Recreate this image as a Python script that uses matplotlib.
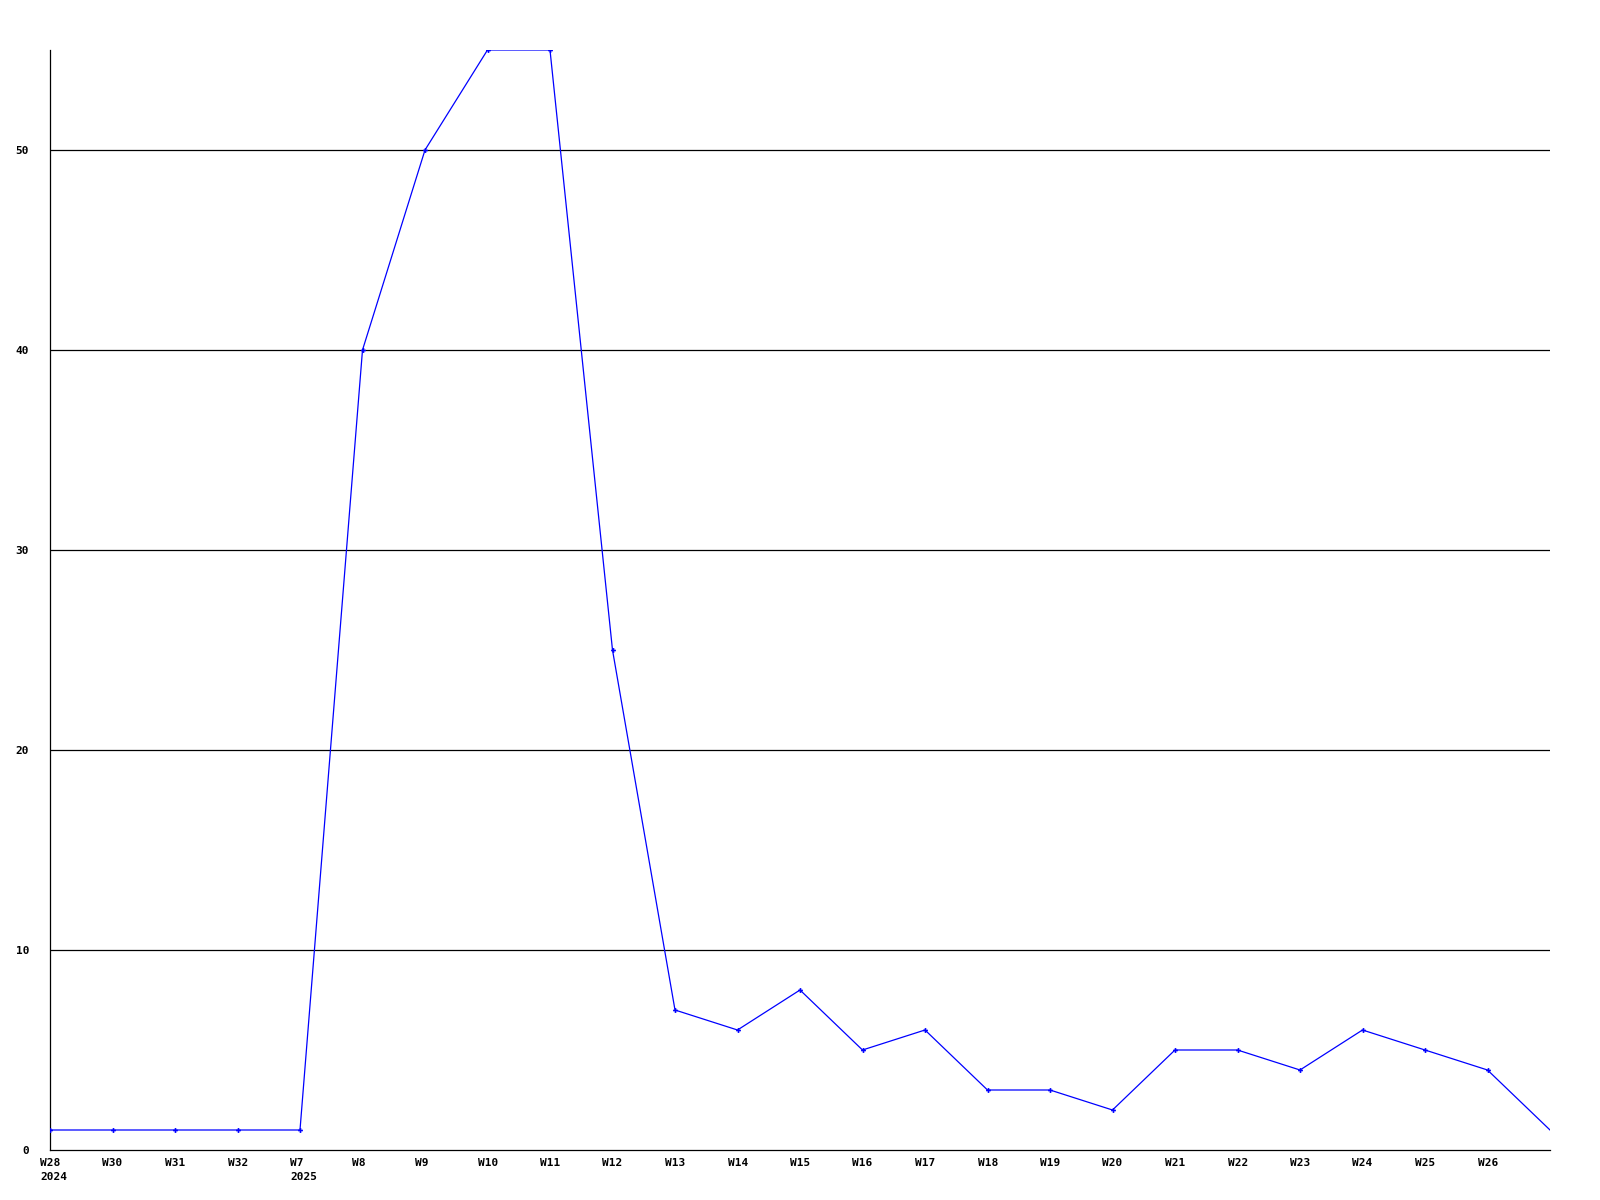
import matplotlib

matplotlib.use('Agg')
import matplotlib.pyplot as plt

weeks = ['W28', 'W30', 'W31', 'W32', 'W7', 'W8', 'W9', 'W10', 'W11', 'W12',
         'W13', 'W14', 'W15', 'W16', 'W17', 'W18', 'W19', 'W20', 'W21', 'W22',
         'W23', 'W24', 'W25', 'W26', '']
years = {0: '2024', 4: '2025'}
values = [1, 1, 1, 1, 1, 40, 50, 55, 55, 25,
          7, 6, 8, 5, 6, 3, 3, 2, 5, 5,
          4, 6, 5, 4, 1]
y_ticks = [0, 10, 20, 30, 40, 50]

FONT = dict(family='DejaVu Sans Mono', fontweight='bold', fontsize=8)

fig = plt.figure(figsize=(16, 12), dpi=100)
ax = fig.add_axes([50 / 1600, 50 / 1200, 1500 / 1600, 1100 / 1200])

x = list(range(len(values)))
ax.plot(x, values, color='#0000ff', linewidth=0.9, zorder=3)
ax.plot(x[:-1], values[:-1], linestyle='none', marker='P', markersize=3.5,
        color='#0000ff', markeredgewidth=0, zorder=4)

ax.set_xlim(0, len(values) - 1)
ax.set_ylim(0, 55)

for y in y_ticks[1:]:
    ax.axhline(y, color='black', linewidth=0.9, zorder=1)

ax.set_xticks([])
ax.set_yticks(y_ticks)
ax.set_yticklabels([str(v) for v in y_ticks], **FONT)
ax.tick_params(axis='y', length=0, pad=15)

# x labels sit left-aligned just before each point
step_px = 1500 / (len(values) - 1)
for i, w in enumerate(weeks):
    if not w:
        continue
    label = w + ('\n' + years[i] if i in years else '')
    ax.text(i - 10 / step_px, -0.4, label, ha='left', va='top',
            multialignment='left', linespacing=1.45, **FONT)

for side in ['top', 'right']:
    ax.spines[side].set_visible(False)
ax.spines['left'].set_linewidth(0.9)
ax.spines['bottom'].set_linewidth(0.9)

fig.savefig('out.png', dpi=100)
